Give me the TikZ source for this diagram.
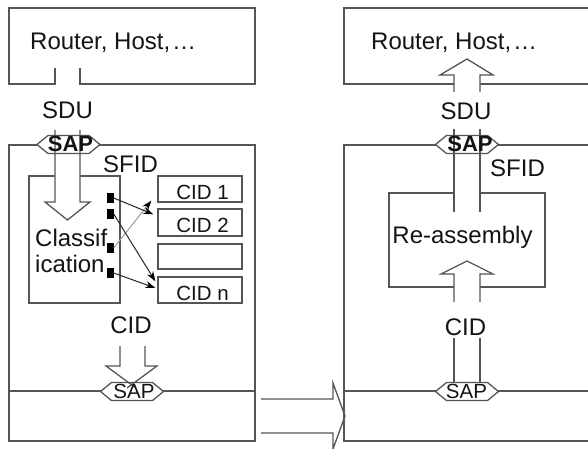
\documentclass[tikz,border=0pt]{standalone}
\usepackage{fontspec}
\setmainfont{Liberation Sans}
\usetikzlibrary{arrows.meta}
\definecolor{lc}{RGB}{85,85,85}
\definecolor{tc}{RGB}{20,20,20}
\begin{document}
\begin{tikzpicture}[x=1pt,y=-1pt,
  box/.style={draw=lc, line width=1.3pt, inner sep=0pt},
  outl/.style={draw=lc, line width=1.3pt},
  txt/.style={inner sep=0pt, text=tc, font=\fontsize{24}{26}\selectfont},
  cidbox/.style={box, minimum width=84pt, inner ysep=0pt, text height=20pt, text depth=0pt, text=tc, font=\fontsize{20.5}{22}\selectfont},
  sapb/.style={inner sep=0pt, text=tc, font=\fontsize{22}{24}\selectfont\bfseries},
  sapn/.style={inner sep=0pt, text=tc, font=\fontsize{20.5}{24}\selectfont},
  sq/.style={fill=black, minimum width=7pt, minimum height=10pt, inner sep=0pt},
  conn/.style={draw=black!85, line width=1pt, -{Stealth[length=10pt,width=7pt,color=black]}},
  sap/.pic={\path[draw=lc, line width=1.3pt, fill=white] (-31.5,0) -- (-20.5,-9) -- (20.5,-9) -- (31.5,0) -- (20.5,9) -- (-20.5,9) -- cycle;}
]
\useasboundingbox (0,0) rectangle (588,449);
\fill[white] (0,0) rectangle (588,449);

% ---------- boxes ----------
\node[box, minimum width=246pt, minimum height=76pt] (hostL) at (132,46) {};
\node[box, minimum width=252pt, minimum height=76pt] (hostR) at (470,46) {};
\node[box, minimum width=246pt, minimum height=296pt] (macL) at (132,293) {};
\node[box, minimum width=252pt, minimum height=296pt] (macR) at (470,293) {};
\draw[outl] (9,391) -- (255,391);
\draw[outl] (344,391) -- (596,391);

\node[box, minimum width=91pt, minimum height=127pt] (cls) at (74.5,239.5) {};
\node[cidbox, minimum height=26pt] (cid1) at (200,189) {\hspace*{5pt}CID 1};
\node[cidbox, minimum height=27pt] (cid2) at (200,222.5) {\hspace*{5pt}CID 2};
\node[cidbox, minimum height=25pt] (cide) at (200,256.5) {};
\node[cidbox, minimum height=26pt] (cidn) at (200,290) {\hspace*{5pt}CID n};
\node[box, minimum width=156pt, minimum height=94pt] (reas) at (467,240) {};

% ---------- white fills of the hollow arrows ----------
\fill[white] (55.7,66) rectangle (79.3,86);
\fill[white] (55,130) -- (55,202) -- (45,202) -- (67.5,220) -- (90,202) -- (80,202) -- (80,130) -- cycle;
\fill[white] (454,92) -- (454,75) -- (440,75) -- (467,59) -- (493,75) -- (480,75) -- (480,92) -- cycle;
\fill[white] (454,129) rectangle (480,212);
\fill[white] (454,302) -- (454,274) -- (441,274) -- (467,261) -- (493,274) -- (480,274) -- (480,302) -- cycle;

% ---------- SAP hexagons ----------
\pic at (68.5,144.5) {sap};
\pic at (467,144.5) {sap};
\pic at (132,391.5) {sap};
\pic at (467,391.5) {sap};

% ---------- hollow arrow outlines ----------
\draw[outl] (55,68) -- (55,84.5);
\draw[outl] (80,68) -- (80,84.5);
\draw[outl] (55,130) -- (55,202) -- (45,202) -- (67.5,220) -- (90,202) -- (80,202) -- (80,130);
\draw[outl] (454,92) -- (454,75) -- (440,75) -- (467,59) -- (493,75) -- (480,75) -- (480,92);
\draw[outl] (454,129) -- (454,212);
\draw[outl] (480,129) -- (480,212);
\draw[outl] (454,302) -- (454,274) -- (441,274) -- (467,261) -- (493,274) -- (480,274) -- (480,302);
\draw[outl] (454,338) -- (454,383);
\draw[outl] (480,338) -- (480,383);
\draw[outl] (120,346) -- (120,366) -- (106,366) -- (136,388);
\draw[outl] (145,346) -- (145,366) -- (157,366) -- (127,388);
\draw[outl] (261,399) -- (333,399) -- (333,383) -- (345,416) -- (333,449) -- (333,433) -- (261,433);

% ---------- texts ----------
\node[txt, anchor=base west] (rhL) at (30,50) {Router, Host,\kern2pt…};
\node[txt, anchor=base west] (rhR) at (371,50) {Router, Host,\kern2pt…};
\node[txt, anchor=base] (sduL) at (67.5,119) {SDU};
\node[txt, anchor=base] (sduR) at (466,120) {SDU};
\node[txt, anchor=base] (sfidL) at (130.5,172) {SFID};
\node[txt, anchor=base] (sfidR) at (517.5,176) {SFID};
\node[txt, anchor=base west] (cls1) at (35,246) {Classif};
\node[txt, anchor=base west] (cls2) at (35,272) {ication};
\node[txt, anchor=base] (reasT) at (462.5,243) {Re-assembly};
\node[txt, anchor=base] (cidL) at (131,333) {CID};
\node[txt, anchor=base] (cidR) at (465.5,335) {CID};
\node[sapb, anchor=base] (sapTL) at (70.5,152) {SAP};
\node[sapb, anchor=base] (sapTR) at (470,152) {SAP};
\node[sapn, anchor=base] (sapBL) at (134,398) {SAP};
\node[sapn, anchor=base] (sapBR) at (466.5,398) {SAP};

% ---------- classifier ports and connectors ----------
\node[sq] (s1) at (110,198) {};
\node[sq] (s2) at (110,214) {};
\node[sq] (s3) at (110,248) {};
\node[sq] (s4) at (110,273) {};
\draw[conn, draw=black!40] (s3.east) -- ([xshift=-6pt,yshift=2pt]cid1.south west);
\draw[conn] (s1.east) -- ([xshift=-4pt,yshift=-6pt]cid2.north west);
\draw[conn] (s2.east) -- ([xshift=-2pt,yshift=-5pt]cidn.north west);
\draw[conn] (s4.east) -- ([xshift=-2pt,yshift=2pt]cidn.west);
\end{tikzpicture}
\end{document}
